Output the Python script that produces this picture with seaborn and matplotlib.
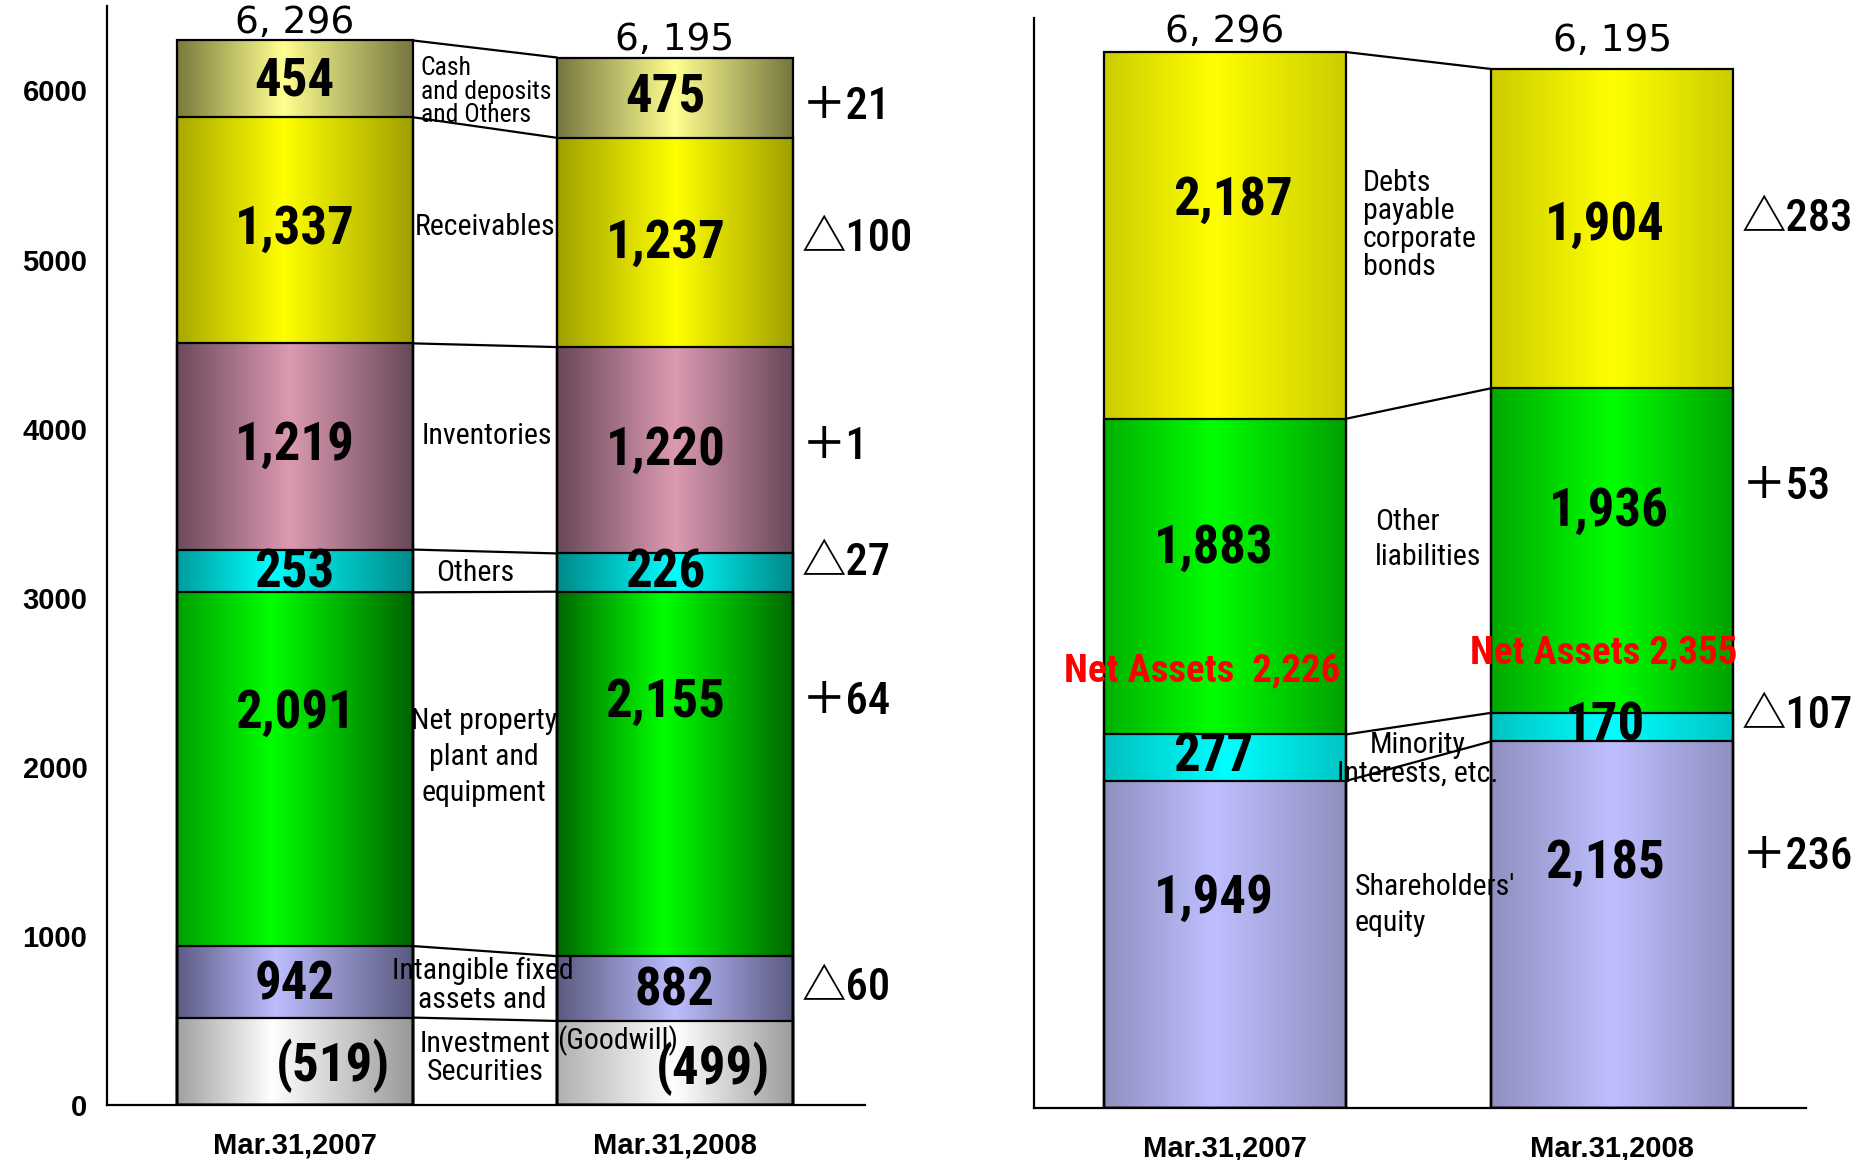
import os
import numpy as np
import matplotlib
matplotlib.use('Agg')
import matplotlib.pyplot as plt
import seaborn as sns
from matplotlib import font_manager as fm
from matplotlib.colors import LinearSegmentedColormap

dates = ['Mar.31,2007', 'Mar.31,2008']

# assets, bottom to top
goodwill = [519, 499]
intangible_inv = [942, 882]   # intangible fixed assets and investment securities (goodwill included)
ppe = [2091, 2155]
others = [253, 226]
inventories = [1219, 1220]
receivables = [1337, 1237]
cash = [454, 475]

# liabilities and net assets, bottom to top
shareholders = [1949, 2185]
minority = [277, 170]
other_liab = [1883, 1936]
debts = [2187, 1904]

sns.set_theme(style='white')


def pick_narrow():
    # a condensed face looks closest to the original; take one if it is there
    for fam in ['Liberation Sans Narrow', 'Arial Narrow', 'Roboto Condensed', 'Open Sans Condensed']:
        try:
            fm.findfont(fm.FontProperties(family=fam), fallback_to_default=False)
            return fam, 'normal', True
        except ValueError:
            pass
    for fam in ['Noto Sans', 'Open Sans', 'DejaVu Sans', 'Roboto']:
        path = os.path.basename(fm.findfont(fm.FontProperties(family=fam, stretch='condensed', weight='bold')))
        if 'ondensed' in path or 'arrow' in path:
            return fam, 'condensed', True
    return 'Liberation Sans', 'normal', False


NFAM, NSTRETCH, IS_NARROW = pick_narrow()
FAMS = [NFAM, 'Noto Sans CJK JP', 'DejaVu Sans']
plt.rcParams['font.family'] = FAMS
plt.rcParams['font.stretch'] = NSTRETCH
for key in ['text.color', 'axes.labelcolor', 'xtick.color', 'ytick.color', 'axes.edgecolor']:
    plt.rcParams[key] = 'black'

if IS_NARROW:
    VAL_FS, MID_FS, CHG_FS, NA_FS = 38, 21.5, 32, 28
else:
    VAL_FS, MID_FS, CHG_FS, NA_FS = 35, 19.5, 29, 25

W = 0.62


def change_text(a, b):
    d = b - a
    return ('＋' if d >= 0 else '△') + str(abs(d))


def grad_image(ax, x0, w, y0, y1, cols, peak):
    cmap = LinearSegmentedColormap.from_list('g', [(0, cols[0]), (peak, cols[1]), (1, cols[2])])
    arr = cmap(np.linspace(0, 1, 256))[None, :, :3]
    ax.imshow(arr, extent=[x0, x0 + w, y0, y1], aspect='auto', interpolation='bilinear', zorder=2)


def draw_stack(ax, heights, grads, width):
    cum = np.cumsum(np.array(heights, dtype=float), axis=0)
    patches = {}
    for k in reversed(range(len(heights))):
        n0 = len(ax.patches)
        sns.barplot(x=dates, y=cum[k], color='white', width=width, ax=ax,
                    edgecolor='black', linewidth=1.6)
        new = sorted(ax.patches[n0:], key=lambda p: p.get_x())
        for p in new:
            p.set_facecolor('none')
            p.set_zorder(5)
        patches[k] = new
    for k in range(len(heights)):
        for j, p in enumerate(patches[k]):
            bottom = cum[k - 1][j] if k > 0 else 0
            cols, peak = grads[k][j]
            grad_image(ax, p.get_x(), p.get_width(), bottom, cum[k][j], cols, peak)
    for k in range(len(heights)):
        ax.plot([width / 2, 1 - width / 2], [cum[k][0], cum[k][1]], color='black', lw=1.6, zorder=6)
    return cum


fig = plt.figure(figsize=(18.63, 11.60), dpi=100)
axL = fig.add_axes([0.0574, 0.0471, 0.4069, 0.9478])
axR = fig.add_axes([0.5548, 0.0451, 0.4146, 0.9395])

# ---------------- left: assets ----------------
left_heights = [goodwill,
                [a - b for a, b in zip(intangible_inv, goodwill)],
                ppe, others, inventories, receivables, cash]
g = lambda a, b, c, p=0.42: ((a, b, c), p)
left_grads = [
    [g('#a0a0a0', '#ffffff', '#999999', 0.4), g('#b0b0b0', '#ffffff', '#9c9c9c', 0.5)],
    [g('#5c5c84', '#bdbdff', '#5a5a80'), g('#5a5a80', '#bdbdff', '#5a5a80', 0.5)],
    [g('#00a000', '#00ff00', '#006400', 0.4), g('#006800', '#00ff00', '#006800', 0.45)],
    [g('#009c9c', '#00ffff', '#008a8a', 0.4), g('#008888', '#00ffff', '#008888', 0.5)],
    [g('#6c4a5c', '#dc9ab2', '#684858', 0.48), g('#684858', '#dc9ab2', '#684858', 0.5)],
    [g('#a8a800', '#ffff00', '#a0a000', 0.45), g('#a0a000', '#ffff00', '#a0a000', 0.5)],
    [g('#7a7a3c', '#ffff90', '#767640', 0.45), g('#767640', '#ffff90', '#767640', 0.5)],
]
cumL = draw_stack(axL, left_heights, left_grads, W)

val_font = dict(fontsize=VAL_FS, fontweight='bold', ha='center', va='center', zorder=8)
left_vals = [goodwill, intangible_inv, ppe, others, inventories, receivables, cash]
left_lab_y = [[232, 218], [710, 675], [2319, 2382], [3148, 3148], [3900, 3872], [5179, 5095], [6058, 5959]]
for k, vals in enumerate(left_vals):
    for j in range(2):
        txt = '(%d)' % vals[j] if k == 0 else f'{vals[j]:,}'
        dx = 0.1 if k == 0 else (-0.025 if j == 1 and k > 1 else 0)
        axL.text(j + dx, left_lab_y[k][j], txt, **val_font)

chg_font = dict(fontsize=CHG_FS, fontweight='medium', ha='left', va='center', zorder=8)
left_chg_y = [5903, 5123, 3893, 3204, 2382, 696]
for vals, yy in zip([cash, receivables, inventories, others, ppe, intangible_inv],
                    left_chg_y):
    axL.text(1.334, yy, change_text(*vals), **chg_font)

tot_font = dict(fontsize=27, ha='center', va='center', family='DejaVu Sans', stretch='normal', zorder=8)
axL.text(0, 6400, '6, ' + str(int(cumL[-1][0]) % 1000), **tot_font)
axL.text(1, 6300, '6, ' + str(int(cumL[-1][1]) % 1000), **tot_font)

mid_font = dict(fontsize=MID_FS, va='center', zorder=8)
axL.text(0.331, 5994, 'Cash\nand deposits\nand Others', ha='left', linespacing=0.95,
         **{**mid_font, 'fontsize': MID_FS * 0.86})
axL.text(0.316, 5193, 'Receivables', ha='left', **mid_font)
axL.text(0.506, 3956, 'Inventories', ha='center', **mid_font)
axL.text(0.475, 3148, 'Others', ha='center', **mid_font)
axL.text(0.497, 2059, 'Net property\nplant and\nequipment', ha='center', linespacing=1.35, **mid_font)
axL.text(0.494, 710, 'Intangible fixed\nassets and', ha='center', linespacing=1.05, **mid_font)
axL.text(0.5, 281, 'Investment\nSecurities', ha='center', linespacing=1.0, **mid_font)
axL.text(0.85, 380, '(Goodwill)', ha='center', **mid_font)

# ---------------- right: liabilities and net assets ----------------
right_heights = [shareholders, minority, other_liab, debts]
right_grads = [
    [g('#8f8fbf', '#bfbfff', '#8f8fbf', 0.45), g('#8f8fbf', '#bfbfff', '#8f8fbf', 0.5)],
    [g('#00c0c0', '#00ffff', '#00c4c4', 0.5), g('#00c4c4', '#00ffff', '#00c4c4', 0.5)],
    [g('#00b000', '#00ff00', '#00a000', 0.45), g('#00a800', '#00ff00', '#00a000', 0.5)],
    [g('#cccc00', '#ffff00', '#cccc00', 0.45), g('#cccc00', '#ffff00', '#cccc00', 0.5)],
]
W2 = 0.625
cumR = draw_stack(axR, right_heights, right_grads, W2)

right_vals = [shareholders, minority, other_liab, debts]
right_lab_y = [[1246, 1459], [2093, 2278], [3338, 3559], [5409, 5260]]
right_lab_x = [[-0.03, -0.02], [-0.03, -0.02], [-0.03, -0.01], [0.02, -0.02]]
for k, vals in enumerate(right_vals):
    for j in range(2):
        axR.text(j + right_lab_x[k][j], right_lab_y[k][j], f'{vals[j]:,}', **val_font)

right_chg_y = [5302, 3701, 2334, 1495]
for vals, yy in zip([debts, other_liab, minority, shareholders], right_chg_y):
    axR.text(1.334, yy, change_text(*vals), **chg_font)

axR.text(0, 6413, '6, ' + str(int(cumR[-1][0]) % 1000), **tot_font)
axR.text(1, 6363, '6, ' + str(int(cumR[-1][1]) % 1000), **tot_font)

axR.text(0.356, 5267, 'Debts\npayable\ncorporate\nbonds', ha='left', linespacing=1.0, **mid_font)
axR.text(0.387, 3388, 'Other\nliabilities', ha='left', linespacing=1.35, **mid_font)
axR.text(0.497, 2078, 'Minority\nInterests, etc.', ha='center', linespacing=1.0, **mid_font)
axR.text(0.334, 1210, "Shareholders'\nequity", ha='left', linespacing=1.35, **mid_font)

net_assets = [a + b for a, b in zip(shareholders, minority)]
na_font = dict(fontsize=NA_FS, fontweight='bold', color='red', ha='center', va='center', zorder=9)
axR.text(-0.058, 2605, f'Net Assets  {net_assets[0]:,}', **na_font)
axR.text(0.979, 2712, f'Net Assets {net_assets[1]:,}', **na_font)

# ---------------- axes styling ----------------
for ax in (axL, axR):
    ax.set_xlim(-0.494, 1.5)
    ax.set_ylim(0, 6500)
    ax.set_xlabel('')
    ax.set_ylabel('')
    sns.despine(ax=ax)
    for s in ('left', 'bottom'):
        ax.spines[s].set_linewidth(1.6)
        ax.spines[s].set_color('black')
    ax.set_yticks(np.arange(0, 7000, 1000))
    ax.tick_params(axis='y', direction='in', length=8, width=1.5, pad=14)
    ax.set_xticks([0, 1], labels=dates)
    ax.set_xticks([0.5, 1.5], minor=True)
    ax.tick_params(axis='x', which='major', length=0, pad=19)
    ax.tick_params(axis='x', which='minor', direction='in', length=12, width=1.5)
    for lab in ax.get_xticklabels():
        lab.set_fontsize(21)
        lab.set_fontweight('bold')
        lab.set_family('Liberation Sans')
        lab.set_fontstretch('normal')

for lab in axL.get_yticklabels():
    lab.set_fontsize(21)
    lab.set_fontweight('bold')
    lab.set_family('Liberation Sans')
    lab.set_fontstretch('normal')
axR.set_yticklabels([])

fig.savefig('out.png', dpi=100)
